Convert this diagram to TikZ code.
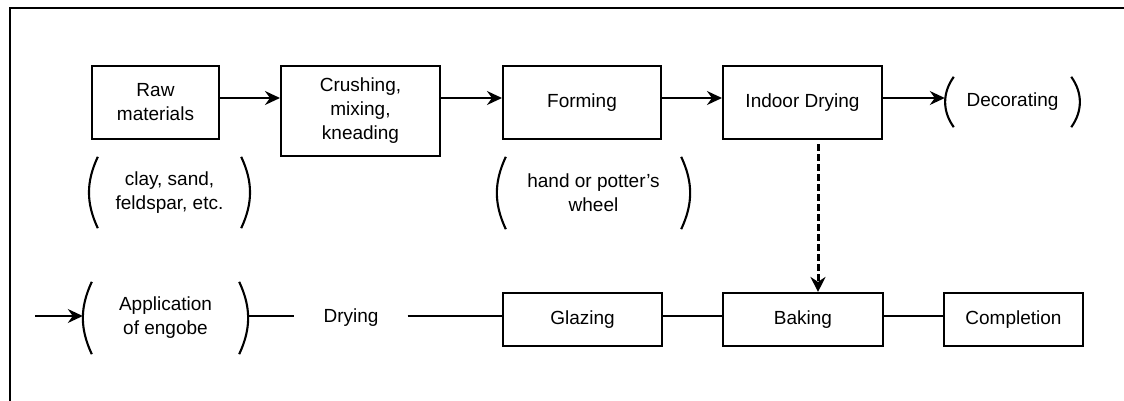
\documentclass[tikz,border=0pt]{standalone}
\usepackage{fontspec}
\setmainfont{Liberation Sans}
\usetikzlibrary{arrows.meta}
\begin{document}
\begin{tikzpicture}[x=1pt,y=1pt,
  every node/.style={font=\fontsize{19}{24}\selectfont},
  stepbox/.style={draw, line width=2.1pt, align=center, inner sep=0pt},
  pline/.style={line width=2.1pt},
  paren/.style={align=center, inner sep=0pt, append after command={
     ([xshift=9pt]\tikzlastnode.north west) edge[pline, bend right=#1] ([xshift=9pt]\tikzlastnode.south west)
     ([xshift=-9pt]\tikzlastnode.north east) edge[pline, bend left=#1] ([xshift=-9pt]\tikzlastnode.south east)}},
  conn/.style={line width=1.5pt},
  arr/.style={conn, -{Stealth[length=15pt,width=14pt,inset=5pt]}},
  dasharr/.style={line width=3pt, dash pattern=on 7pt off 3pt, -{Stealth[length=15pt,width=15pt,inset=5pt]}}
]
\useasboundingbox (0,0) rectangle (1124,-401);
% frame
\draw[line width=1.8pt] (1124,-8) -- (9.5,-8);
\draw[line width=2.8pt] (10,-7.2) -- (10,-401);

% reference coordinates
\coordinate (r1) at (0,-98);
\coordinate (r2) at (0,-316);
\coordinate (dx) at (818,0);
\coordinate (start) at (35,-316);

% row 1
\node[stepbox, minimum width=127pt, minimum height=73pt] (raw) at (155.5,-102.5) {Raw\\materials};
\node[stepbox, minimum width=159pt, minimum height=90pt] (crush) at (360.5,-111) {Crushing,\\mixing,\\kneading};
\node[stepbox, minimum width=158pt, minimum height=73pt] (form) at (582,-102.5) {Forming};
\node[stepbox, minimum width=159pt, minimum height=73pt] (indoor) at (802.5,-102.5) {Indoor Drying};
\node[paren=36, minimum width=135pt, minimum height=50pt] (deco) at (1012.5,-102) {Decorating};

% notes
\node[paren=25, minimum width=161pt, minimum height=71pt] (clay) at (169.5,-192.5) {clay, sand,\\feldspar, etc.};
\node[paren=25, minimum width=193pt, minimum height=72pt] (hand) at (593.5,-193) {hand or potter’s\\wheel};

% row 2
\node[paren=25, minimum width=165pt, minimum height=72pt] (app) at (165.5,-318) {Application\\of engobe};
\node[inner xsep=29pt, inner ysep=0pt] (dry) at (351,-318) {Drying};
\node[stepbox, minimum width=159pt, minimum height=53pt] (glaze) at (582.5,-319.5) {Glazing};
\node[stepbox, minimum width=160pt, minimum height=53pt] (bake) at (803,-319.5) {Baking};
\node[stepbox, minimum width=139pt, minimum height=53pt] (comp) at (1013.5,-319.5) {Completion};

% connectors row 1
\draw[arr] (raw.east |- r1) -- (crush.west |- r1);
\draw[arr] (crush.east |- r1) -- (form.west |- r1);
\draw[arr] (form.east |- r1) -- (indoor.west |- r1);
\draw[arr] (indoor.east |- r1) -- (deco.west |- r1);

% connectors row 2
\draw[arr] (start) -- (app.west |- start);
\draw[conn] (app.east |- r2) -- (dry.west |- r2);
\draw[conn] (dry.east |- r2) -- (glaze.west |- r2);
\draw[conn] (glaze.east |- r2) -- (bake.west |- r2);
\draw[conn] (bake.east |- r2) -- (comp.west |- r2);

% dashed arrow
\draw[dasharr] ([yshift=-4pt]indoor.south -| dx) -- (bake.north -| dx);
\end{tikzpicture}
\end{document}
